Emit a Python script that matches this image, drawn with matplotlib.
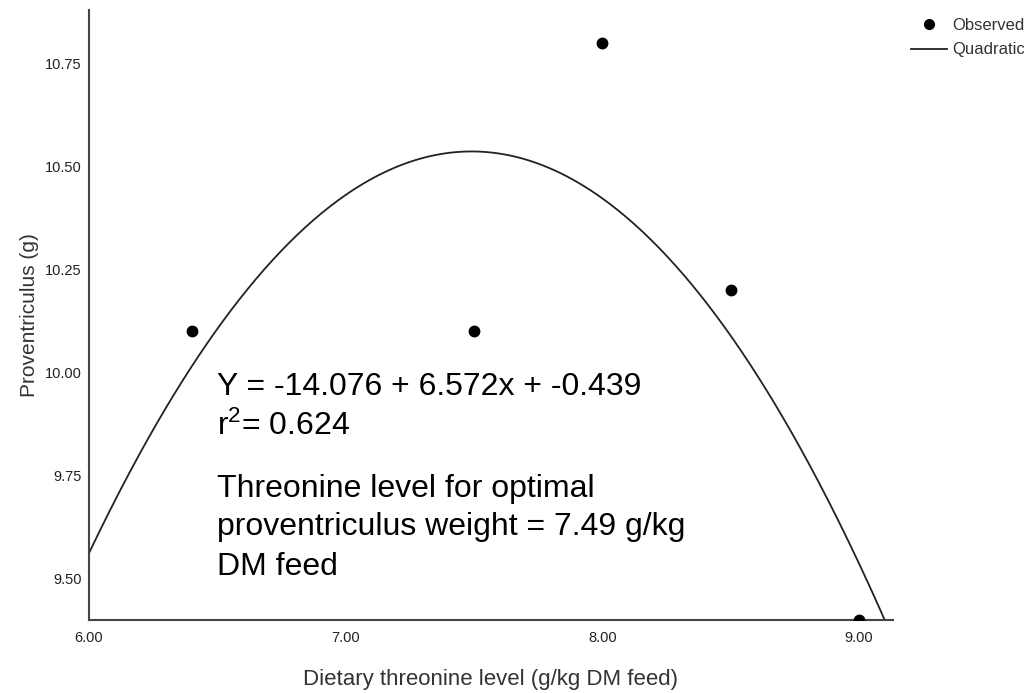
import numpy as np
import matplotlib

matplotlib.use("Agg")
import matplotlib.pyplot as plt
from matplotlib.lines import Line2D


# observed means per threonine level
threonine = [6.4, 7.5, 8.0, 8.5, 9.0]
proventriculus = [10.1, 10.1, 10.8, 10.2, 9.4]

x_ticks = [6.0, 7.0, 8.0, 9.0]
y_ticks = [9.50, 9.75, 10.00, 10.25, 10.50, 10.75]

equation_lines = ["Y = -14.076 + 6.572x + -0.439", "r$^{2}$= 0.624"]
optimum_lines = ["Threonine level for optimal",
                 "proventriculus weight = 7.49 g/kg",
                 "DM feed"]


def apply_style():
    plt.rcParams.update(
        {
            "font.family": ["Liberation Sans", "DejaVu Sans"],
            "mathtext.fontset": "custom",
            "mathtext.rm": "Liberation Sans",
            "mathtext.default": "regular",
            "axes.edgecolor": "#444444",
            "axes.linewidth": 1.5,
            "xtick.color": "#222222",
            "ytick.color": "#222222",
        }
    )


def main():
    apply_style()
    fig = plt.figure(figsize=(10.33, 6.93), dpi=100)
    ax = fig.add_axes([0.086, 0.105, 0.778, 0.881])

    # quadratic fit through the observed points
    coef = np.polyfit(threonine, proventriculus, 2)
    xs = np.linspace(6.0, 9.2, 400)
    ax.plot(xs, np.polyval(coef, xs), color="#222222", linewidth=1.3)
    ax.plot(threonine, proventriculus, "o", color="black", markersize=7.5,
            zorder=3, clip_on=True)

    ax.set_xlim(6.0, 9.13)
    ax.set_ylim(9.40, 10.88)
    ax.set_xticks(x_ticks)
    ax.set_xticklabels(["{:.2f}".format(v) for v in x_ticks])
    ax.set_yticks(y_ticks)
    ax.set_yticklabels(["{:.2f}".format(v) for v in y_ticks])
    ax.tick_params(length=0, labelsize=10.5)
    ax.tick_params(axis="x", pad=8)
    ax.tick_params(axis="y", pad=5)
    ax.spines["top"].set_visible(False)
    ax.spines["right"].set_visible(False)

    ax.set_xlabel("Dietary threonine level (g/kg DM feed)", fontsize=16,
                  color="#333333", labelpad=17)
    ax.set_ylabel("Proventriculus (g)", fontsize=15, color="#333333",
                  labelpad=4)

    baselines = [0.369, 0.303]
    for text, yb in zip(equation_lines, baselines):
        ax.text(0.160, yb, text, transform=ax.transAxes, fontsize=23,
                va="baseline", ha="left", color="black")
    baselines = [0.202, 0.139, 0.074]
    for text, yb in zip(optimum_lines, baselines):
        ax.text(0.160, yb, text, transform=ax.transAxes, fontsize=23,
                va="baseline", ha="left", color="black")

    handles = [
        Line2D([], [], marker="o", linestyle="none", color="black",
               markersize=7),
        Line2D([], [], color="#222222", linewidth=1.3),
    ]
    fig.legend(handles, ["Observed", "Quadratic"], loc="upper left",
               bbox_to_anchor=(0.872, 0.988), frameon=False, fontsize=12,
               handlelength=2.2, handletextpad=0.3, labelspacing=0.55,
               borderaxespad=0.2, labelcolor="#333333")

    fig.savefig("out.png", dpi=100)
    plt.close(fig)


if __name__ == "__main__":
    main()
